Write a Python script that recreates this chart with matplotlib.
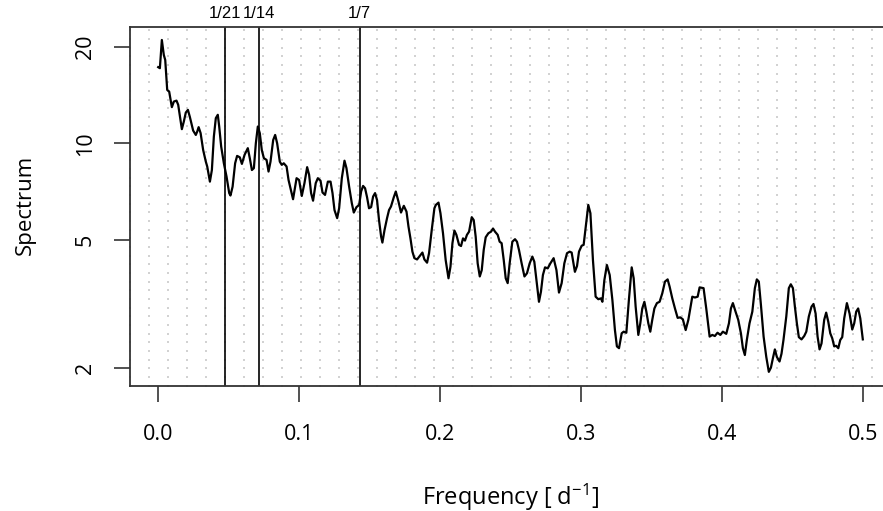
import numpy as np
import matplotlib
matplotlib.use("Agg")
import matplotlib.pyplot as plt

plt.rcParams['font.family'] = ['Open Sans', 'DejaVu Sans']
plt.rcParams['mathtext.fontset'] = 'custom'
plt.rcParams['mathtext.rm'] = 'Open Sans'
plt.rcParams['mathtext.it'] = 'Open Sans'

# spectrum
freq = [0.0000, 0.0012, 0.0026, 0.0040, 0.0050, 0.0064, 0.0078, 0.0097, 0.0111, 0.0130,
        0.0142, 0.0168, 0.0182, 0.0196, 0.0211, 0.0225, 0.0248, 0.0267, 0.0277, 0.0287,
        0.0301, 0.0319, 0.0338, 0.0348, 0.0367, 0.0381, 0.0395, 0.0409, 0.0423, 0.0433,
        0.0447, 0.0466, 0.0485, 0.0504, 0.0513, 0.0528, 0.0546, 0.0560, 0.0579, 0.0594,
        0.0613, 0.0636, 0.0650, 0.0665, 0.0679, 0.0693, 0.0707, 0.0721, 0.0735, 0.0750,
        0.0769, 0.0783, 0.0797, 0.0816, 0.0830, 0.0844, 0.0863, 0.0877, 0.0891, 0.0911,
        0.0925, 0.0957, 0.0982, 0.1000, 0.1019, 0.1038, 0.1057, 0.1071, 0.1085, 0.1099,
        0.1118, 0.1133, 0.1152, 0.1166, 0.1184, 0.1204, 0.1223, 0.1237, 0.1251, 0.1270,
        0.1284, 0.1303, 0.1322, 0.1336, 0.1355, 0.1374, 0.1388, 0.1407, 0.1426, 0.1440,
        0.1454, 0.1468, 0.1482, 0.1496, 0.1511, 0.1525, 0.1539, 0.1553, 0.1567, 0.1582,
        0.1591, 0.1606, 0.1624, 0.1638, 0.1652, 0.1672, 0.1686, 0.1705, 0.1723, 0.1743,
        0.1762, 0.1776, 0.1790, 0.1804, 0.1818, 0.1837, 0.1856, 0.1875, 0.1889, 0.1908,
        0.1922, 0.1941, 0.1960, 0.1970, 0.1989, 0.2003, 0.2021, 0.2040, 0.2060, 0.2074,
        0.2088, 0.2102, 0.2116, 0.2135, 0.2149, 0.2163, 0.2177, 0.2191, 0.2206, 0.2225,
        0.2239, 0.2253, 0.2267, 0.2282, 0.2296, 0.2310, 0.2324, 0.2343, 0.2362, 0.2376,
        0.2390, 0.2409, 0.2423, 0.2437, 0.2452, 0.2466, 0.2480, 0.2494, 0.2513, 0.2532,
        0.2546, 0.2560, 0.2579, 0.2599, 0.2617, 0.2636, 0.2655, 0.2669, 0.2684, 0.2702,
        0.2716, 0.2730, 0.2745, 0.2764, 0.2783, 0.2806, 0.2826, 0.2844, 0.2863, 0.2882,
        0.2901, 0.2920, 0.2934, 0.2957, 0.2972, 0.2986, 0.3005, 0.3019, 0.3033, 0.3052,
        0.3067, 0.3085, 0.3104, 0.3123, 0.3142, 0.3152, 0.3166, 0.3184, 0.3204, 0.3223,
        0.3241, 0.3255, 0.3270, 0.3289, 0.3303, 0.3322, 0.3340, 0.3360, 0.3374, 0.3388,
        0.3407, 0.3421, 0.3435, 0.3450, 0.3464, 0.3478, 0.3492, 0.3506, 0.3521, 0.3539,
        0.3558, 0.3577, 0.3596, 0.3615, 0.3629, 0.3648, 0.3667, 0.3686, 0.3705, 0.3723,
        0.3743, 0.3762, 0.3776, 0.3790, 0.3809, 0.3828, 0.3842, 0.3870, 0.3889, 0.3913,
        0.3932, 0.3950, 0.3969, 0.3989, 0.4007, 0.4031, 0.4050, 0.4064, 0.4078, 0.4097,
        0.4116, 0.4135, 0.4149, 0.4163, 0.4177, 0.4196, 0.4216, 0.4234, 0.4248, 0.4262,
        0.4277, 0.4296, 0.4315, 0.4333, 0.4348, 0.4362, 0.4376, 0.4390, 0.4409, 0.4423,
        0.4437, 0.4457, 0.4475, 0.4489, 0.4504, 0.4518, 0.4532, 0.4546, 0.4565, 0.4584,
        0.4599, 0.4617, 0.4636, 0.4650, 0.4665, 0.4679, 0.4693, 0.4707, 0.4726, 0.4740,
        0.4755, 0.4769, 0.4783, 0.4797, 0.4811, 0.4826, 0.4840, 0.4854, 0.4868, 0.4887,
        0.4906, 0.4925, 0.4939, 0.4953, 0.4967, 0.4982, 0.4996, 0.5000]

spec = [17.27, 17.14, 20.98, 18.84, 18.18, 14.67, 14.50, 12.97, 13.50, 13.59,
        13.19, 11.08, 11.70, 12.48, 12.72, 12.08, 10.97, 10.63, 10.89, 11.24,
        10.77, 9.55, 8.78, 8.48, 7.61, 8.27, 10.50, 11.99, 12.28, 11.29,
        9.78, 8.68, 7.89, 7.01, 6.89, 7.34, 8.68, 9.15, 9.06, 8.64,
        9.22, 9.67, 9.00, 8.27, 8.38, 10.02, 11.29, 10.77, 9.55, 9.00,
        8.89, 8.18, 8.78, 10.25, 10.63, 10.02, 8.78, 8.58, 8.68, 8.48,
        7.70, 6.71, 7.80, 7.70, 6.87, 7.53, 8.44, 7.99, 7.01, 6.64,
        7.53, 7.80, 7.66, 7.04, 6.92, 7.61, 7.61, 7.01, 6.21, 5.86,
        6.29, 7.80, 8.84, 8.38, 7.34, 6.52, 6.10, 6.34, 6.44, 7.09,
        7.38, 7.26, 6.81, 6.29, 6.34, 6.84, 7.01, 6.67, 5.78, 5.13,
        4.92, 5.38, 5.86, 6.21, 6.37, 6.81, 7.09, 6.60, 6.10, 6.40,
        6.14, 5.52, 5.07, 4.61, 4.40, 4.36, 4.47, 4.58, 4.36, 4.26,
        4.56, 5.38, 6.29, 6.44, 6.55, 6.07, 5.26, 4.34, 3.81, 4.14,
        4.90, 5.36, 5.20, 4.84, 4.80, 5.07, 4.99, 5.20, 5.32, 5.90,
        5.78, 5.13, 4.24, 3.86, 4.04, 4.67, 5.11, 5.26, 5.32, 5.44,
        5.32, 5.20, 4.95, 4.90, 4.34, 3.81, 3.68, 4.24, 4.95, 5.04,
        4.95, 4.67, 4.24, 3.86, 3.95, 4.24, 4.45, 4.29, 3.76, 3.22,
        3.46, 3.90, 4.12, 4.09, 4.24, 4.40, 4.04, 3.44, 3.68, 4.24,
        4.56, 4.61, 4.58, 3.99, 4.16, 4.61, 4.81, 4.84, 5.45, 6.44,
        6.07, 4.34, 3.34, 3.28, 3.30, 3.22, 3.76, 4.19, 3.90, 3.26,
        2.63, 2.34, 2.31, 2.57, 2.60, 2.58, 3.26, 4.12, 3.81, 3.11,
        2.54, 2.76, 3.07, 3.22, 3.00, 2.76, 2.60, 2.83, 3.07, 3.19,
        3.22, 3.42, 3.72, 3.78, 3.59, 3.30, 3.07, 2.87, 2.88, 2.84,
        2.63, 2.83, 3.07, 3.34, 3.32, 3.34, 3.57, 3.55, 3.07, 2.51,
        2.54, 2.52, 2.58, 2.54, 2.60, 2.56, 2.76, 3.07, 3.19, 3.00,
        2.83, 2.57, 2.31, 2.20, 2.45, 2.76, 3.00, 3.55, 3.78, 3.72,
        3.15, 2.51, 2.17, 1.95, 2.01, 2.15, 2.29, 2.17, 2.10, 2.22,
        2.45, 2.90, 3.55, 3.65, 3.55, 3.11, 2.76, 2.50, 2.46, 2.52,
        2.60, 2.90, 3.11, 3.17, 2.96, 2.51, 2.29, 2.39, 2.83, 2.98,
        2.79, 2.57, 2.48, 2.34, 2.35, 2.31, 2.45, 2.50, 2.86, 3.19,
        2.96, 2.64, 2.76, 3.00, 3.07, 2.86, 2.54, 2.46]

# weekly-cycle reference periods
period_days = [21, 14, 7]
period_labels = ["1/21", "1/14", "1/7"]

xticks = [0.0, 0.1, 0.2, 0.3, 0.4, 0.5]
yticks = [2, 5, 10, 20]

fig = plt.figure(figsize=(8.83, 5.11), dpi=100)
ax = fig.add_axes([130 / 883, 1 - 385.7 / 511, 761 / 883, 359 / 511])

# faint dotted background grid
gx, gy = np.meshgrid(np.arange(0, 41) * 0.025, np.arange(0, 42) * 0.02415)
ax.scatter(gx.ravel(), gy.ravel(), s=0.8, c="#d2d2d2", marker="s",
           linewidths=0, transform=ax.transAxes, zorder=0, clip_on=False)

ax.plot(freq, spec, color="black", lw=1.6, zorder=3)

for p, lab in zip(period_days, period_labels):
    ax.axvline(1 / p, color="black", lw=1.2, zorder=2)
    ax.text(1 / p, 1.015, lab, transform=ax.get_xaxis_transform(),
            ha="center", va="bottom", fontsize=12, family=["Liberation Sans", "DejaVu Sans"])

ax.set_yscale("log")
ax.set_xlim(-0.02, 0.52)
ax.set_ylim(1.766, 23.07)
ax.set_xticks(xticks)
ax.set_xticklabels(["%.1f" % t for t in xticks])
ax.set_yticks(yticks)
ax.set_yticklabels([str(t) for t in yticks], rotation=90, va="center")
ax.minorticks_off()
ax.tick_params(axis="both", direction="out", length=11.5, width=1.1,
               color="#222222", labelsize=15.5)
ax.tick_params(axis="x", pad=16)
ax.tick_params(axis="y", pad=13)

for s in ["left", "bottom", "top"]:
    ax.spines[s].set_color("#333333")
    ax.spines[s].set_linewidth(1.3)
ax.spines["right"].set_visible(False)

fig.text(511 / 883, 1 - 497 / 511, "Frequency [ d$^{-1}$]", ha="center", va="center", fontsize=17)
fig.text(25 / 883, 1 - 205 / 511, "Spectrum", ha="center", va="center", rotation=90, fontsize=16)

fig.savefig("out.png", dpi=100)
